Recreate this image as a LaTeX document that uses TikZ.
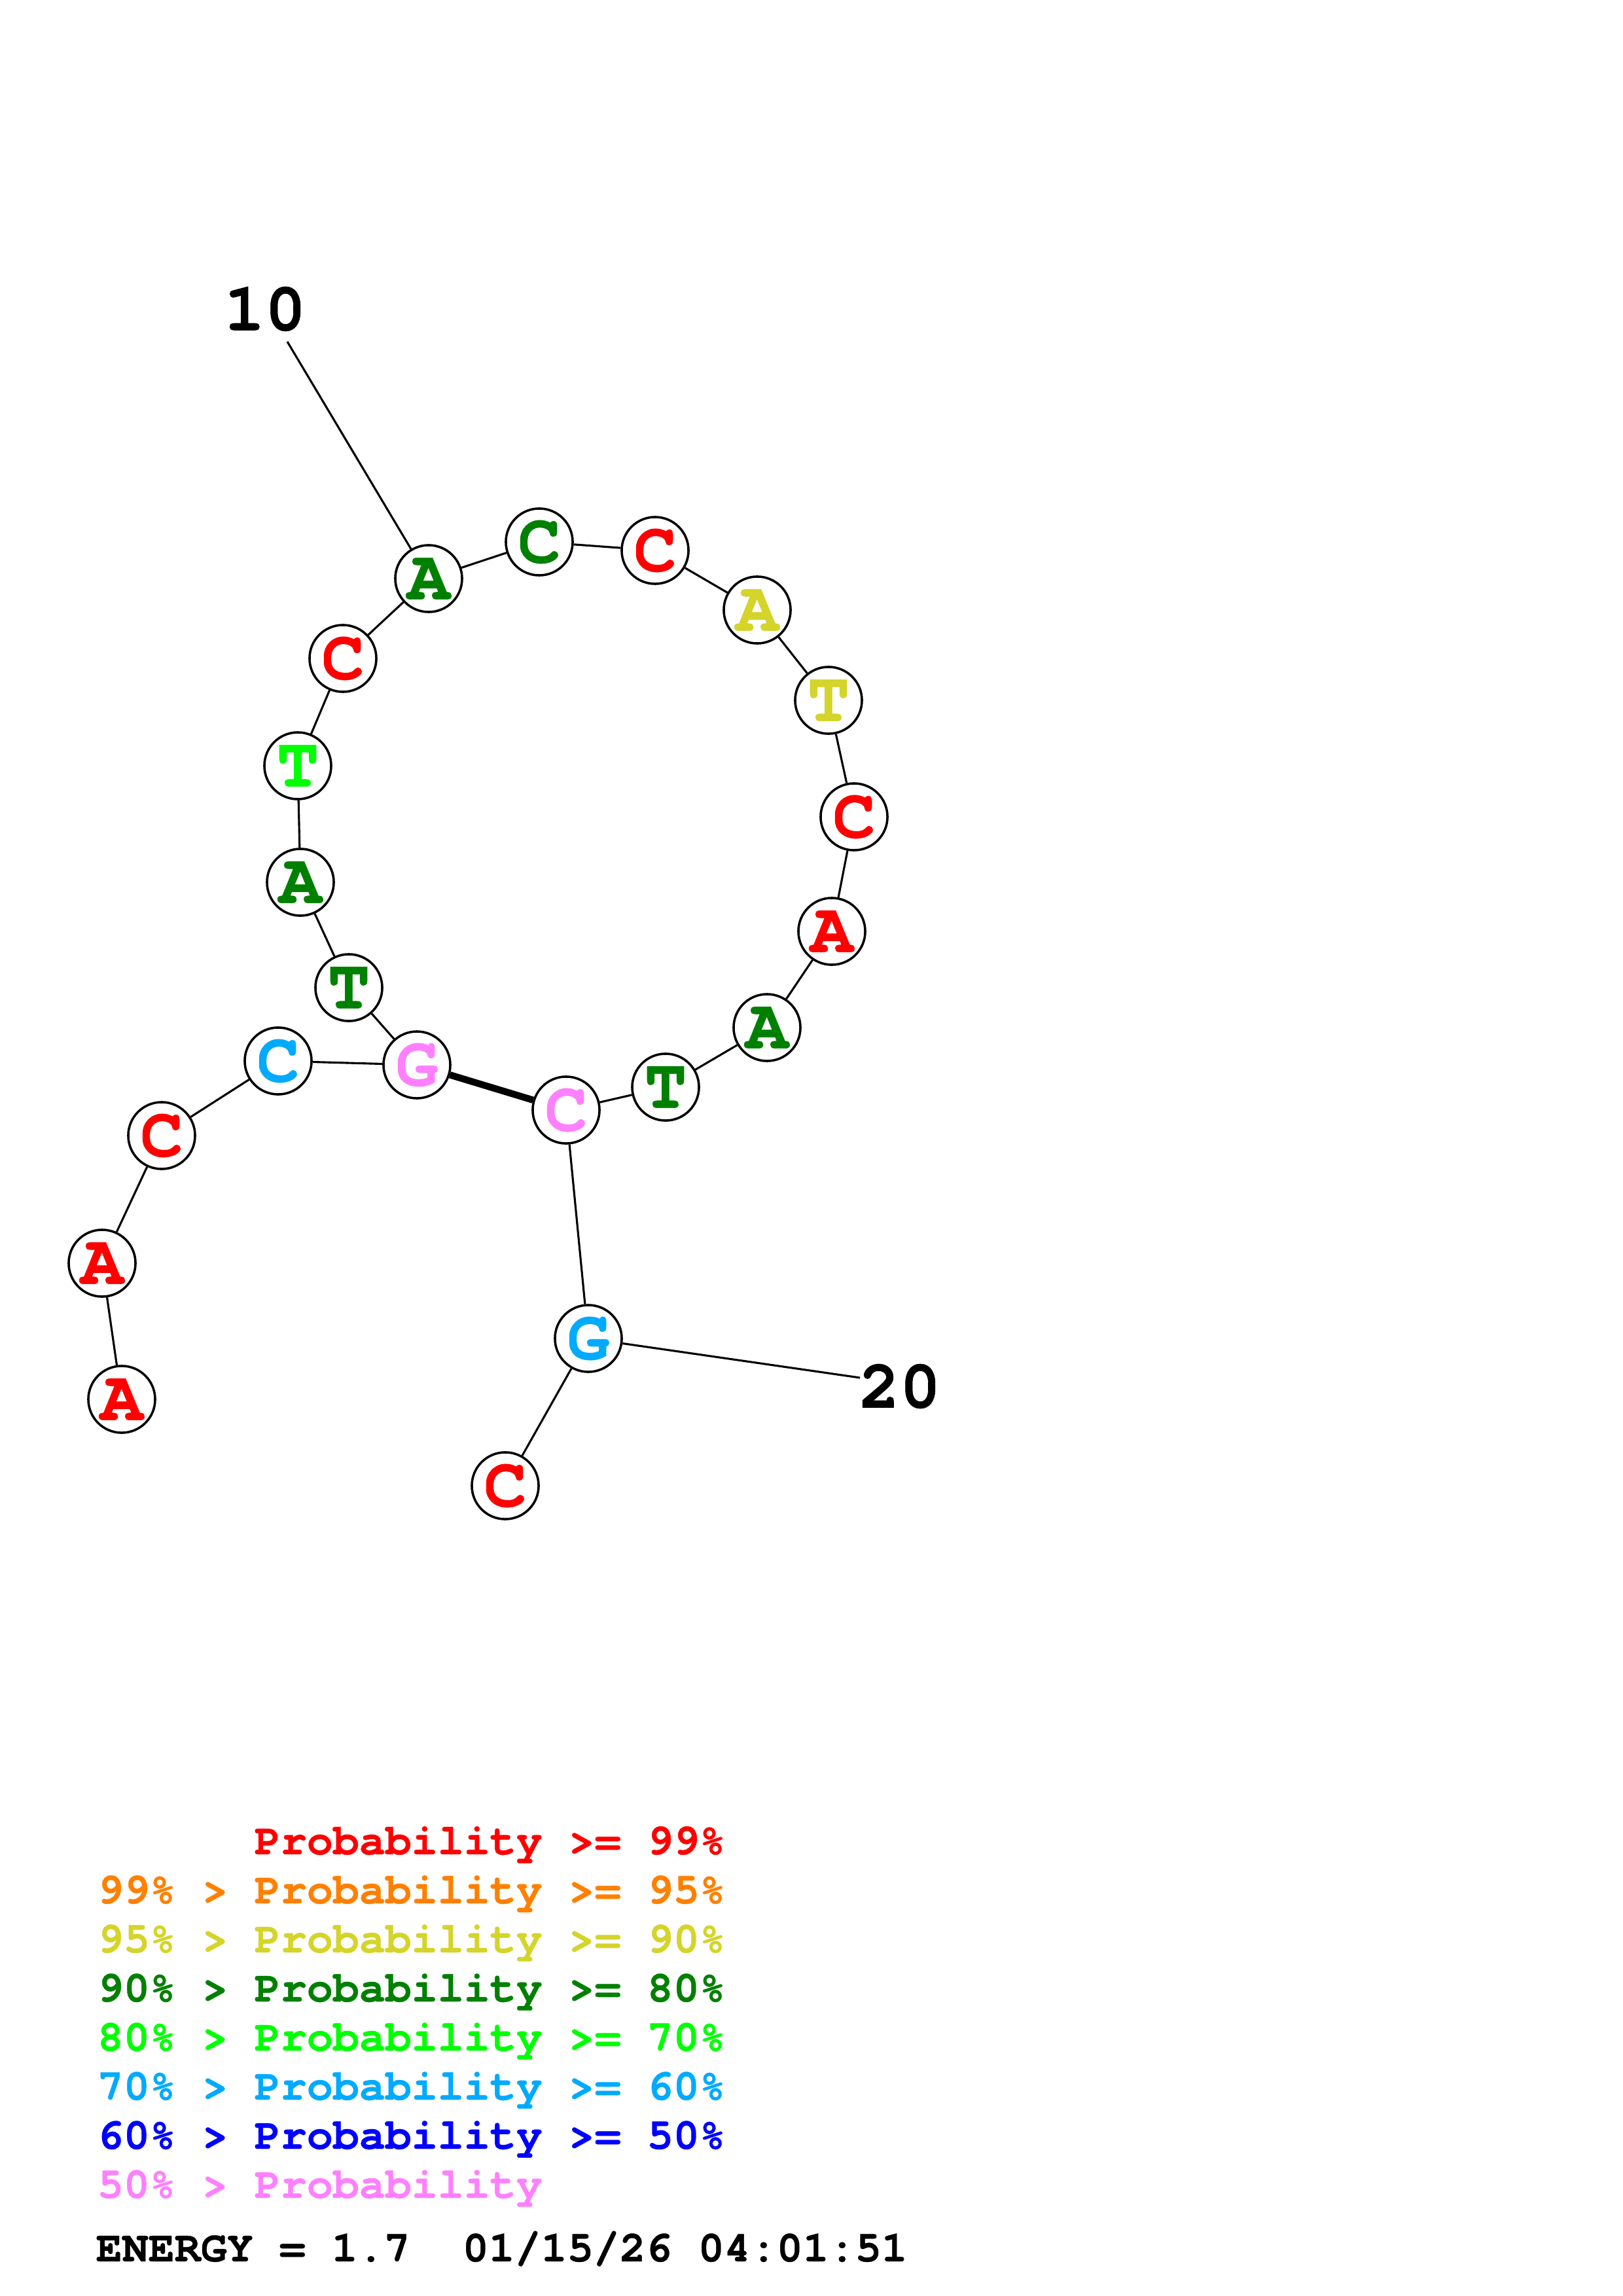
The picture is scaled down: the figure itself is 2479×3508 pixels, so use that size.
\documentclass[tikz,border=0pt]{standalone}
\usepackage{fontspec}
\newfontfamily\cour[FakeBold=0.6]{texgyrecursor-bold.otf}
\definecolor{pR}{RGB}{255,0,0}
\definecolor{pO}{RGB}{255,128,0}
\definecolor{pY}{RGB}{212,212,42}
\definecolor{pG}{RGB}{0,128,0}
\definecolor{pL}{RGB}{0,255,0}
\definecolor{pC}{RGB}{0,170,255}
\definecolor{pB}{RGB}{0,0,255}
\definecolor{pP}{RGB}{255,128,255}
\begin{document}
\begin{tikzpicture}[x=0.24pt,y=-0.24pt,
  nt/.style={circle, draw, line width=0.85pt, fill=white, minimum size=24.5pt, inner sep=0pt,
    font=\cour\fontsize{26}{26}\selectfont},
  bond/.style={line width=0.75pt},
  pairbond/.style={line width=2.5pt},
  numlab/.style={inner sep=0pt, font=\cour\fontsize{25}{25}\selectfont},
  legend/.style={anchor=base west, inner sep=0pt, font=\cour\fontsize{16}{16}\selectfont}]
\useasboundingbox (0,0) rectangle (2479,3508);
% nucleotides
\node[nt, text=pR] (n1)  at (186,2138) {A};
\node[nt, text=pR] (n2)  at (156,1930) {A};
\node[nt, text=pR] (n3)  at (247,1735) {C};
\node[nt, text=pC] (n4)  at (425,1621) {C};
\node[nt, text=pP] (n5)  at (637,1627) {G};
\node[nt, text=pG] (n6)  at (533,1509) {T};
\node[nt, text=pG] (n7)  at (459,1348) {A};
\node[nt, text=pL] (n8)  at (455,1170) {T};
\node[nt, text=pR] (n9)  at (524,1006) {C};
\node[nt, text=pG] (n10) at (655,884)  {A};
\node[nt, text=pG] (n11) at (824,828)  {C};
\node[nt, text=pR] (n12) at (1001,841) {C};
\node[nt, text=pY] (n13) at (1157,932) {A};
\node[nt, text=pY] (n14) at (1266,1070) {T};
\node[nt, text=pR] (n15) at (1305,1248) {C};
\node[nt, text=pR] (n16) at (1271,1423) {A};
\node[nt, text=pG] (n17) at (1172,1570) {A};
\node[nt, text=pG] (n18) at (1017,1661) {T};
\node[nt, text=pP] (n19) at (865,1696) {C};
\node[nt, text=pC] (n20) at (899,2045) {G};
\node[nt, text=pR] (n21) at (772,2270) {C};
% numbering labels
\node[numlab] (l10) at (405,472) {10};
\node[numlab] (l20) at (1375,2118) {20};
\coordinate (c10) at (439,522);
\coordinate (c20) at (1314,2105);
% backbone
\draw[bond] (n1) -- (n2);
\draw[bond] (n2) -- (n3);
\draw[bond] (n3) -- (n4);
\draw[bond] (n4) -- (n5);
\draw[bond] (n5) -- (n6);
\draw[bond] (n6) -- (n7);
\draw[bond] (n7) -- (n8);
\draw[bond] (n8) -- (n9);
\draw[bond] (n9) -- (n10);
\draw[bond] (n10) -- (n11);
\draw[bond] (n11) -- (n12);
\draw[bond] (n12) -- (n13);
\draw[bond] (n13) -- (n14);
\draw[bond] (n14) -- (n15);
\draw[bond] (n15) -- (n16);
\draw[bond] (n16) -- (n17);
\draw[bond] (n17) -- (n18);
\draw[bond] (n18) -- (n19);
\draw[bond] (n19) -- (n20);
\draw[bond] (n20) -- (n21);
% base pair
\draw[pairbond] (n5) -- (n19);
% label ticks
\draw[bond] (n10) -- (c10);
\draw[bond] (n20) -- (c20);
% legend
\node[legend, text=pR] (g1) at (388,2833) {Probability >= 99\%};
\node[legend, text=pO] (g2) at (148,2908) {99\% > Probability >= 95\%};
\node[legend, text=pY] (g3) at (148,2983) {95\% > Probability >= 90\%};
\node[legend, text=pG] (g4) at (148,3058) {90\% > Probability >= 80\%};
\node[legend, text=pL] (g5) at (148,3133) {80\% > Probability >= 70\%};
\node[legend, text=pC] (g6) at (148,3208) {70\% > Probability >= 60\%};
\node[legend, text=pB] (g7) at (148,3283) {60\% > Probability >= 50\%};
\node[legend, text=pP] (g8) at (148,3358) {50\% > Probability};
\node[legend, text=black] (en) at (146,3455) {ENERGY = 1.7\ \ 01/15/26 04:01:51};
\end{tikzpicture}
\end{document}
